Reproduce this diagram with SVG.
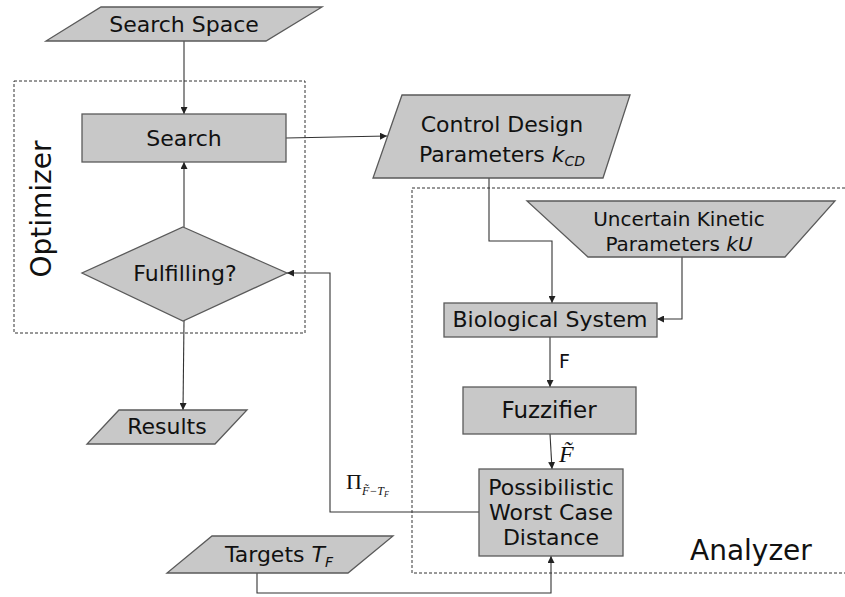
<svg xmlns="http://www.w3.org/2000/svg" width="845" height="597" viewBox="0 0 845 597">
<style>
.node{fill:#c8c8c8;stroke:#5a5a5a;stroke-width:1.3}
.lbl{font-family:"DejaVu Sans","Liberation Sans",sans-serif;font-size:22px;fill:#111;text-anchor:middle}
.conn{fill:none;stroke:#333;stroke-width:1.1;marker-end:url(#ah)}
.grp{fill:none;stroke:#333;stroke-width:1;stroke-dasharray:3 2}
.math{font-family:"Liberation Serif","DejaVu Serif",serif;fill:#111}
</style>
<defs>
<marker id="ah" markerUnits="userSpaceOnUse" markerWidth="8" markerHeight="7" refX="7" refY="3.5" orient="auto">
<path d="M0,0 L7,3.5 L0,7 z" fill="#222"/>
</marker>
</defs>
<rect width="845" height="597" fill="#fff"/>

<g id="optimizer">
<rect class="grp" x="14" y="81" width="291" height="252"/>
<text class="lbl" style="font-size:28px" transform="translate(51,209) rotate(-90)">Optimizer</text>
</g>
<g id="analyzer">
<rect class="grp" x="412" y="188" width="440" height="385"/>
<text class="lbl" style="font-size:28px;text-anchor:start" x="690" y="560">Analyzer</text>
</g>

<g id="connectors">
<path class="conn" d="M184,41 L184,114"/>
<path class="conn" d="M286,138 L387,136"/>
<path class="conn" d="M184,227 L184,162"/>
<path class="conn" d="M184,321 L183,410"/>
<path class="conn" d="M489,178 L489,241 L552,241 L552,303"/>
<path class="conn" d="M682,257 L682,319 L657,319"/>
<path class="conn" d="M550,337 L550,387"/>
<path class="conn" d="M550,434 L552,469"/>
<path class="conn" d="M479,512 L330,512 L330,273 L287,273"/>
<path class="conn" d="M257,573 L257,593 L551,593 L551,556"/>
<text class="lbl" style="font-size:19px;text-anchor:start" x="559" y="368">F</text>
<text class="math" style="font-size:24px;font-style:italic" x="559" y="462">F̃</text>
<text class="math" style="font-size:22px" x="346" y="489">Π<tspan style="font-size:12px;font-style:italic" dy="6">F̃−T</tspan><tspan style="font-size:8px;font-style:italic" dy="2">F</tspan></text>
</g>

<g id="search-space">
<polygon class="node" points="101,7 322,7 266,41 46,41"/>
<text class="lbl" x="184" y="32">Search Space</text>
</g>
<g id="search">
<rect class="node" x="82" y="114" width="204" height="48"/>
<text class="lbl" x="184" y="146">Search</text>
</g>
<g id="fulfilling">
<polygon class="node" points="183,227 287,273 183,321 82,273"/>
<text class="lbl" x="185" y="281">Fulfilling?</text>
</g>
<g id="results">
<polygon class="node" points="119,410 247,410 215,444 87,444"/>
<text class="lbl" x="167" y="434">Results</text>
</g>
<g id="control-design">
<polygon class="node" points="402,95 630,95 603,178 373,178"/>
<text class="lbl" x="502" y="132">Control Design</text>
<text class="lbl" x="502" y="162">Parameters <tspan style="font-style:italic">k</tspan><tspan style="font-style:italic;font-size:14px" dy="4">CD</tspan></text>
</g>
<g id="uncertain">
<polygon class="node" points="527,201 835,201 785,257 588,257"/>
<text class="lbl" style="font-size:20px" x="679" y="226">Uncertain Kinetic</text>
<text class="lbl" style="font-size:20px" x="679" y="251">Parameters <tspan style="font-style:italic">kU</tspan></text>
</g>
<g id="biological">
<rect class="node" x="444" y="303" width="213" height="34"/>
<text class="lbl" x="550" y="327">Biological System</text>
</g>
<g id="fuzzifier">
<rect class="node" x="463" y="387" width="173" height="47"/>
<text class="lbl" style="font-size:23px" x="549" y="418">Fuzzifier</text>
</g>
<g id="pwcd">
<rect class="node" x="479" y="469" width="144" height="87"/>
<text class="lbl" x="551" y="495">Possibilistic</text>
<text class="lbl" x="551" y="520">Worst Case</text>
<text class="lbl" x="551" y="545">Distance</text>
</g>
<g id="targets">
<polygon class="node" points="212,536 393,536 348,573 167,573"/>
<text class="lbl" x="279" y="562">Targets <tspan style="font-style:italic">T</tspan><tspan style="font-style:italic;font-size:14px" dy="5">F</tspan></text>
</g>
</svg>
